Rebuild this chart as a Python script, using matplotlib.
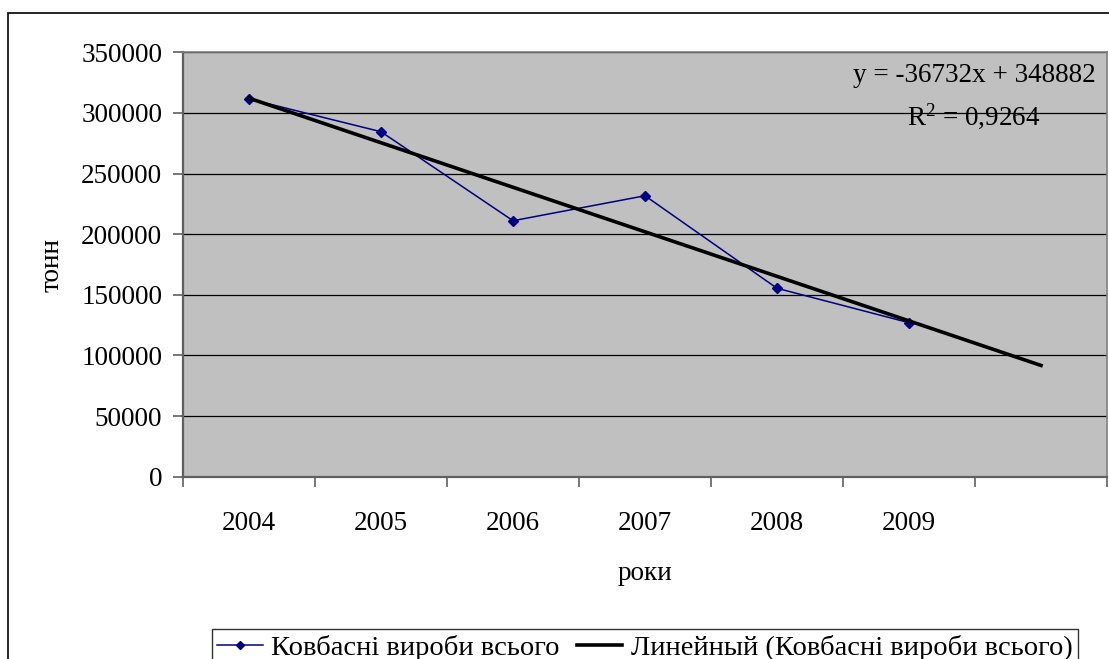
import numpy as np
import matplotlib
matplotlib.use("Agg")
import matplotlib.pyplot as plt
from matplotlib.lines import Line2D
from matplotlib.patches import Rectangle

# дані (тонн)
years = ["2004", "2005", "2006", "2007", "2008", "2009"]
values = [311500, 284500, 211100, 231700, 155400, 127000]
trend_slope = -36732
trend_icept = 348882
r2_text = "0,9264"
yticks = [0, 50000, 100000, 150000, 200000, 250000, 300000, 350000]

plt.rcParams["font.family"] = ["Liberation Serif", "DejaVu Serif"]
plt.rcParams["mathtext.fontset"] = "custom"
plt.rcParams["mathtext.rm"] = "Liberation Serif"
plt.rcParams["mathtext.it"] = "Liberation Serif"

FS = 19.5

fig = plt.figure(figsize=(11.09, 6.59), dpi=100)
# рамка діаграми
fig.patches.append(Rectangle((8 / 1109, -0.05), 1.2, 1 - 13 / 659 + 0.05,
                             transform=fig.transFigure, fill=False,
                             edgecolor="black", linewidth=1.2))

ax = fig.add_axes([183 / 1109, 1 - 476.7 / 659, 924 / 1109, 424.4 / 659])
ax.set_facecolor("#C0C0C0")

x = np.arange(1, len(years) + 1)
ax.plot(x, values, color="#000080", lw=1.1, marker="D", ms=5.5,
        label="Ковбасні вироби всього", zorder=3)

xt = np.array([1, len(years) + 1])
ax.plot(xt, trend_slope * xt + trend_icept, color="black", lw=2.6,
        label="Линейный (Ковбасні вироби всього)", zorder=4)

ax.set_xlim(0.5, len(years) + 1.5)
ax.set_ylim(0, 350000)
ax.set_yticks(yticks)
ax.set_yticklabels([str(v) for v in yticks], fontsize=FS)
ax.yaxis.grid(True, color="black", lw=0.9)
ax.set_axisbelow(True)

ax.set_xticks(np.arange(0.5, len(years) + 2, 1.0))
ax.set_xticklabels([])
ax.set_xticks(x, minor=True)
ax.set_xticklabels(years, minor=True, fontsize=FS)
ax.tick_params(axis="x", which="minor", length=0, pad=25)
ax.tick_params(axis="both", which="major", direction="out", length=7,
               width=1.2, color="#606060", pad=8)

for s in ["left", "bottom"]:
    ax.spines[s].set_color("#606060")
    ax.spines[s].set_linewidth(1.6)
for s in ["top", "right"]:
    ax.spines[s].set_color("#808080")
    ax.spines[s].set_linewidth(1.2)

ax.set_xlabel("роки", fontsize=FS, labelpad=18)
ax.set_ylabel("тонн", fontsize=FS, labelpad=12)

ax.text(0.988, 0.945, "y = -36732x + 348882", transform=ax.transAxes,
        ha="right", va="center", fontsize=FS)
ax.text(0.9275, 0.85, "R$^{2}$ = " + r2_text, transform=ax.transAxes,
        ha="right", va="center", fontsize=FS)

h = [Line2D([], [], color="#000080", lw=1.1, marker="D", ms=4),
     Line2D([], [], color="black", lw=2.6)]
leg = fig.legend(h, ["Ковбасні вироби всього", "Линейный (Ковбасні вироби всього)"],
                 loc="upper center", bbox_to_anchor=(645 / 1109, 1 - 629 / 659), ncol=2,
                 fontsize=20.5, frameon=True, fancybox=False, handlelength=1.6,
                 handletextpad=0.3, columnspacing=0.6, borderpad=0.2,
                 borderaxespad=0)
leg.get_frame().set_edgecolor("black")
leg.get_frame().set_linewidth(1.0)

fig.savefig("out.png", dpi=100)
